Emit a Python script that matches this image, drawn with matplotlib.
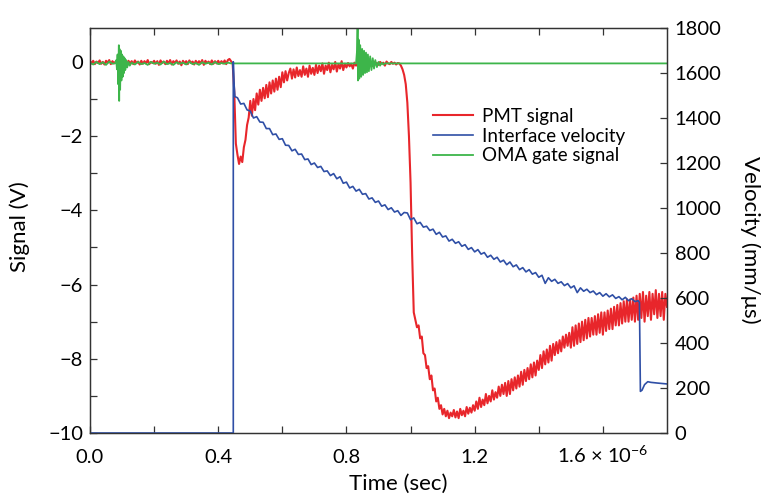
import numpy as np
import matplotlib
matplotlib.use('Agg')
import matplotlib.pyplot as plt

plt.rcParams['font.family'] = ['Lato', 'DejaVu Sans']
plt.rcParams['mathtext.fontset'] = 'custom'
plt.rcParams['mathtext.rm'] = 'Lato'
plt.rcParams['mathtext.default'] = 'regular'

# PMT signal (V), sampled every 0.005 us from 0 to 1.8 us
red_step = 0.005
red_v = [
    0.02, -0.04, 0.03, -0.06, 0.01, -0.03, 0.04, -0.05, 0.00, -0.07, 0.03, -0.02, 0.05, -0.06, 0.02, -0.04, 0.01, -0.08, 0.03, -0.03,
    0.02, -0.05, 0.01, -0.09, 0.03, -0.04, 0.02, -0.06, 0.04, -0.03, 0.01, -0.07, 0.03, -0.05, 0.02, -0.04, 0.05, -0.06, 0.00, -0.03,
    0.03, -0.05, 0.02, -0.08, 0.04, -0.03, 0.01, -0.06, 0.03, -0.04, 0.05, -0.07, 0.02, -0.03, 0.04, -0.05, 0.01, -0.09, 0.03, -0.04,
    0.02, -0.06, 0.04, -0.03, 0.01, -0.07, 0.03, -0.05, 0.02, -0.04, 0.05, -0.08, 0.03, -0.03, 0.01, -0.06, 0.04, -0.05, 0.02, -0.04,
    0.03, -0.05, 0.02, -0.04, 0.04, -0.06, 0.05, 0.08, 0.02, -0.05, -0.8, -2.2, -2.5, -2.75, -2.55, -2.7, -2.3, -2.1, -1.7, -1.5,
    -1.05, -1.45, -1.0, -1.3, -0.85, -1.15, -0.75, -1.05, -0.7, -0.98, -0.62, -0.95, -0.55, -0.85, -0.5, -0.8, -0.45, -0.75, -0.4, -0.68,
    -0.28, -0.55, -0.25, -0.5, -0.3, -0.18, -0.45, -0.2, -0.42, -0.15, -0.38, -0.22, -0.4, -0.12, -0.35, -0.18, -0.4, -0.1, -0.32, -0.16,
    -0.35, -0.08, -0.3, -0.1, -0.25, -0.04, -0.32, -0.1, -0.22, -0.02, -0.28, -0.08, -0.2, 0.0, -0.26, -0.06, -0.18, 0.02, -0.22, -0.05,
    -0.15, -0.03, -0.12, -0.05, -0.18, -0.02, -0.1, -0.04, -0.14, 0.0, -0.09, -0.03, -0.12, -0.01, -0.08, -0.04, -0.11, 0.01, -0.07, -0.03,
    -0.08, 0.0, -0.05, -0.02, -0.1, 0.01, -0.04, -0.06, 0.0, -0.05, -0.02, -0.07, -0.03, -0.04, -0.1, -0.2, -0.35, -0.6, -1.1, -2.0,
    -3.25, -5.2, -6.75, -6.95, -7.15, -7.1, -7.45, -7.4, -7.85, -7.9, -8.25, -8.2, -8.55, -8.45, -8.85, -8.8, -9.15, -9.05, -9.35, -9.25,
    -9.5, -9.35, -9.55, -9.4, -9.6, -9.45, -9.55, -9.38, -9.58, -9.42, -9.6, -9.35, -9.52, -9.4, -9.55, -9.3, -9.48, -9.32, -9.45, -9.25,
    -9.4, -9.15, -9.35, -9.05, -9.3, -9.1, -9.25, -8.95, -9.2, -9.0, -9.15, -8.85, -9.1, -8.9, -9.05, -8.75, -9.0, -8.7, -8.95, -8.65,
    -9.0, -8.6, -8.95, -8.55, -8.85, -8.5, -8.8, -8.45, -8.75, -8.35, -8.7, -8.3, -8.6, -8.25, -8.55, -8.15, -8.5, -8.1, -8.45, -8.05,
    -8.3, -7.9, -8.25, -7.8, -8.15, -7.75, -8.1, -7.65, -8.05, -7.6, -7.9, -7.55, -7.85, -7.5, -7.8, -7.4, -7.7, -7.35, -7.65, -7.3,
    -7.7, -7.15, -7.65, -7.1, -7.6, -7.05, -7.55, -7.0, -7.5, -6.95, -7.45, -6.9, -7.4, -6.9, -7.35, -6.85, -7.35, -6.8, -7.3, -6.75,
    -7.35, -6.75, -7.25, -6.7, -7.2, -6.65, -7.2, -6.6, -7.1, -6.55, -7.1, -6.5, -7.05, -6.45, -7.0, -6.4, -7.0, -6.4, -6.95, -6.35,
    -7.0, -6.3, -6.95, -6.25, -6.9, -6.2, -7.0, -6.3, -6.85, -6.2, -6.95, -6.25, -6.8, -6.15, -6.9, -6.25, -6.85, -6.2, -6.95, -6.25,
    -6.6,
]
red_t = np.arange(len(red_v)) * red_step

# Interface velocity (mm/us)
blue_head_t = [0.0, 0.447, 0.447, 0.449, 0.452]
blue_head_v = [0, 0, 1650, 1560, 1495]
blue_grid_start = 0.46
blue_grid_step = 0.01
blue_grid_v = [
    1490, 1462, 1465, 1436, 1431, 1400, 1406, 1382, 1381, 1353,
    1353, 1326, 1329, 1305, 1308, 1279, 1278, 1254, 1261, 1238,
    1240, 1215, 1218, 1193, 1200, 1180, 1185, 1162, 1165, 1144,
    1153, 1130, 1139, 1110, 1115, 1089, 1096, 1075, 1083, 1061,
    1064, 1040, 1045, 1025, 1031, 1008, 1014, 993, 1001, 982,
    988, 967, 980, 978, 948, 956, 930, 936, 915, 919,
    900, 906, 883, 892, 871, 876, 853, 861, 843, 850,
    830, 837, 816, 824, 805, 815, 795, 802, 781, 790,
    772, 781, 760, 768, 748, 760, 739, 747, 726, 735,
    716, 726, 706, 713, 692, 701, 665, 690, 674, 683,
    665, 672, 655, 664, 645, 654, 624, 645, 630, 639,
    624, 631, 615, 624, 608, 619, 605, 614, 598, 606,
    592, 603, 588, 597, 584, 588,
]
blue_tail_t = [1.714, 1.717, 1.722, 1.73, 1.74, 1.75, 1.77, 1.80]
blue_tail_v = [580, 185, 190, 215, 228, 225, 222, 218]

# OMA gate signal (V)
green_t = [0.0, 0.01, 0.02, 0.03, 0.04, 0.05, 0.06, 0.07, 0.08,
           0.082, 0.084, 0.086, 0.088, 0.090, 0.091, 0.092, 0.094, 0.096, 0.098,
           0.100, 0.102, 0.104, 0.106, 0.108, 0.110, 0.113, 0.116, 0.120, 0.124,
           0.13, 0.14, 0.15, 0.16, 0.17, 0.18, 0.19, 0.20, 0.21, 0.22, 0.23, 0.24,
           0.25, 0.26, 0.27, 0.28, 0.29, 0.30, 0.31, 0.32, 0.33, 0.34, 0.35, 0.36,
           0.37, 0.38, 0.39, 0.40, 0.41, 0.42, 0.43, 0.44, 0.45,
           0.830, 0.833, 0.835, 0.836, 0.838, 0.840, 0.843, 0.846, 0.849, 0.852,
           0.855, 0.858, 0.861, 0.864, 0.867, 0.870, 0.874, 0.878, 0.882, 0.886,
           0.890, 0.895, 0.900, 0.905, 0.910, 0.915, 0.920, 1.80]
green_v = [-0.02, -0.07, 0.0, -0.06, -0.01, -0.08, 0.01, -0.05, -0.03,
           0.05, -0.2, 0.2, -0.6, 0.45, -1.05, 0.35, -0.75, 0.3, -0.5,
           0.2, -0.4, 0.15, -0.3, 0.1, -0.22, 0.05, -0.15, 0.0, -0.1,
           -0.02, -0.07, 0.0, -0.06, -0.03, -0.08, 0.0, -0.05, -0.02, -0.07, 0.01, -0.06,
           -0.03, -0.08, -0.01, -0.05, -0.02, -0.07, 0.0, -0.06, -0.03, -0.08, -0.01, -0.05,
           -0.02, -0.07, 0.0, -0.06, -0.03, -0.05, -0.02, -0.04, -0.04,
           -0.04, 0.3, 1.2, -0.5, 0.6, -0.45, 0.45, -0.4, 0.35, -0.35,
           0.3, -0.3, 0.25, -0.28, 0.2, -0.25, 0.15, -0.22, 0.1, -0.18,
           0.05, -0.14, 0.0, -0.1, -0.02, -0.07, -0.04, -0.04]

blue_t = blue_head_t + list(blue_grid_start + blue_grid_step * np.arange(len(blue_grid_v))) + blue_tail_t
blue_v = blue_head_v + blue_grid_v + blue_tail_v

red_c = '#e8262b'
blue_c = '#2f4fa6'
green_c = '#3db54a'

fig = plt.figure(figsize=(7.61, 4.95), dpi=100)
ax = fig.add_axes([90 / 761, 1 - 433 / 495, 577 / 761, 405 / 495])
ax2 = ax.twinx()

l1, = ax.plot(red_t, red_v, color=red_c, lw=1.5, label='PMT signal')
l3, = ax.plot(green_t, green_v, color=green_c, lw=1.3, label='OMA gate signal')
l2, = ax2.plot(blue_t, blue_v, color=blue_c, lw=1.2, label='Interface velocity')

ax.set_xlim(0, 1.8)
ax.set_ylim(-10, 0.914)
ax2.set_ylim(0, 1800)

xt = [0.0, 0.2, 0.4, 0.6, 0.8, 1.0, 1.2, 1.4, 1.6]
ax.set_xticks(xt)
ax.set_xticklabels(['0.0', '', '0.4', '', '0.8', '', '1.2', '', r'1.6 × 10$^{-6}$'])
for lab in ax.get_xticklabels():
    lab.set_verticalalignment('baseline')
yt = list(range(-10, 1))
ax.set_yticks(yt)
ax.set_yticklabels(['\u221210', '', '\u22128', '', '\u22126', '', '\u22124', '', '\u22122', '', '0'])
ax2.set_yticks(range(0, 1801, 200))

for a in (ax, ax2):
    for s in a.spines.values():
        s.set_color('#333333')
        s.set_linewidth(0.9)
ax.tick_params(axis='x', direction='in', length=5, width=0.9, color='#333333',
               labelsize=14.5, top=True, pad=21.5)
ax.tick_params(axis='y', direction='in', length=5, width=0.9, color='#333333',
               labelsize=14.5, pad=5)
ax2.tick_params(axis='y', direction='in', length=5, width=0.9, color='#333333',
                labelsize=14.5, pad=5.5)

ax.set_xlabel('Time (sec)', fontsize=16, va='center')
ax.xaxis.set_label_coords(0.534, -0.126)
ax.set_ylabel('Signal (V)', fontsize=16, va='center')
ax.yaxis.set_label_coords(-0.121, 0.509)
ax2.set_ylabel('Velocity (mm/μs)', fontsize=16, rotation=270, va='center')
ax2.yaxis.set_label_coords(1.144, 0.477)

ax2.legend(handles=[l1, l2, l3], loc='upper left', bbox_to_anchor=(0.594, 0.803),
           frameon=False, fontsize=13.5, handlelength=2.13, handletextpad=0.48,
           labelspacing=0.15, borderaxespad=0, borderpad=0)

fig.savefig('out.png', dpi=100)
